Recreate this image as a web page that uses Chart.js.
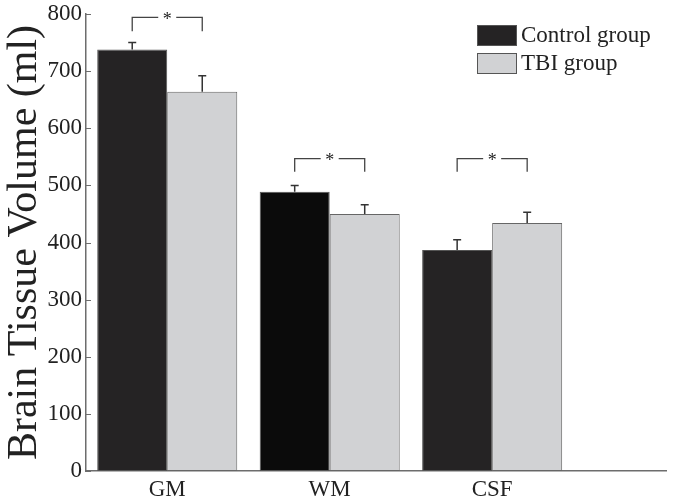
<!DOCTYPE html>
<html>
<head>
<meta charset="utf-8">
<script src="https://cdn.jsdelivr.net/npm/chart.js@4.4.1/dist/chart.umd.min.js"></script>
<style>
  html, body { margin: 0; padding: 0; background: #fff; }
  #wrap { width: 673px; height: 503px; }
</style>
</head>
<body>
<div id="wrap"><canvas id="volumeChart" width="673" height="503"></canvas></div>
<script>
// Tissue classes and their positions on the x axis
const categories = ["GM", "WM", "CSF"];
const categoryX = [1, 2, 3];

// Mean volumes (ml) and upper error (mean + SD)
const controlMeans = [738, 489, 387];
const controlErrTop = [750, 500, 405];
const tbiMeans = [664, 450, 434];
const tbiErrTop = [692, 466, 453];

// Significance brackets: which category, leg bottom and bracket top (ml)
const sigCategory = [0, 1, 2];
const sigLow = [770, 524, 524];
const sigHigh = [794, 547, 547];

const yTicks = [0, 100, 200, 300, 400, 500, 600, 700, 800];

const controlColors = ["#252324", "#0b0b0b", "#252324"];
const tbiColor = "#d1d2d4";
const serif = "'Liberation Serif', 'DejaVu Serif', serif";
const textColor = "#222";

// Upward error bars with a small cap
const errorBars = {
  id: "errorBars",
  afterDatasetsDraw(chart) {
    const ctx = chart.ctx;
    const y = chart.scales.y;
    const tops = [controlErrTop, tbiErrTop];
    ctx.save();
    ctx.strokeStyle = "#333";
    ctx.lineWidth = 1.5;
    tops.forEach((vals, d) => {
      chart.getDatasetMeta(d).data.forEach((bar, i) => {
        const yt = y.getPixelForValue(vals[i]);
        ctx.beginPath();
        ctx.moveTo(bar.x, bar.y);
        ctx.lineTo(bar.x, yt);
        ctx.moveTo(bar.x - 4, yt);
        ctx.lineTo(bar.x + 4, yt);
        ctx.stroke();
      });
    });
    ctx.restore();
  },
};

// Brackets with a star between the two bars of a group
const sigBrackets = {
  id: "sigBrackets",
  afterDatasetsDraw(chart) {
    const ctx = chart.ctx;
    const y = chart.scales.y;
    ctx.save();
    ctx.strokeStyle = "#444";
    ctx.lineWidth = 1.3;
    ctx.fillStyle = textColor;
    ctx.font = "18px " + serif;
    ctx.textAlign = "center";
    ctx.textBaseline = "middle";
    sigCategory.forEach((c, k) => {
      const x1 = chart.getDatasetMeta(0).data[c].x;
      const x2 = chart.getDatasetMeta(1).data[c].x;
      const mid = (x1 + x2) / 2;
      const yl = y.getPixelForValue(sigLow[k]);
      const yh = y.getPixelForValue(sigHigh[k]);
      ctx.beginPath();
      ctx.moveTo(x1, yl);
      ctx.lineTo(x1, yh);
      ctx.lineTo(mid - 9, yh);
      ctx.moveTo(mid + 9, yh);
      ctx.lineTo(x2, yh);
      ctx.lineTo(x2, yl);
      ctx.stroke();
      ctx.fillText("*", mid, yh + 3);
    });
    ctx.restore();
  },
};

// Inward tick marks on the y axis, as in the original figure
const innerTicks = {
  id: "innerTicks",
  afterDraw(chart) {
    const ctx = chart.ctx;
    const y = chart.scales.y;
    const left = chart.chartArea.left;
    ctx.save();
    ctx.strokeStyle = "#6d6d6d";
    ctx.lineWidth = 1;
    yTicks.forEach((v) => {
      const py = Math.round(y.getPixelForValue(v)) + 0.5;
      ctx.beginPath();
      ctx.moveTo(left, py);
      ctx.lineTo(left + 5, py);
      ctx.stroke();
    });
    ctx.restore();
  },
};

// Legend box in the upper right corner
const boxLegend = {
  id: "boxLegend",
  afterDraw(chart) {
    const ctx = chart.ctx;
    const x0 = 477;
    const rows = [25, 53];
    ctx.save();
    ctx.font = "23px " + serif;
    ctx.textBaseline = "middle";
    ctx.textAlign = "left";
    chart.data.datasets.forEach((ds, i) => {
      const fill = Array.isArray(ds.backgroundColor) ? ds.backgroundColor[0] : ds.backgroundColor;
      ctx.fillStyle = fill;
      ctx.fillRect(x0, rows[i], 40, 21);
      ctx.strokeStyle = "#555";
      ctx.lineWidth = 1;
      ctx.strokeRect(x0 + 0.5, rows[i] + 0.5, 39, 20);
      ctx.fillStyle = textColor;
      ctx.fillText(ds.label, x0 + 44, rows[i] + 11);
    });
    ctx.restore();
  },
};

const ctx = document.getElementById("volumeChart").getContext("2d");
new Chart(ctx, {
  type: "bar",
  data: {
    datasets: [
      {
        label: "Control group",
        data: categoryX.map((x, i) => ({ x: x, y: controlMeans[i] })),
        backgroundColor: controlColors,
        borderColor: "#555",
        borderWidth: 1,
        borderSkipped: false,
      },
      {
        label: "TBI group",
        data: categoryX.map((x, i) => ({ x: x, y: tbiMeans[i] })),
        backgroundColor: tbiColor,
        borderColor: "#666",
        borderWidth: 1,
        borderSkipped: false,
      },
    ],
  },
  options: {
    responsive: false,
    animation: false,
    devicePixelRatio: 1,
    layout: { padding: { left: 0, top: 14, right: 7, bottom: 0 } },
    datasets: { bar: { categoryPercentage: 0.862, barPercentage: 1.0 } },
    plugins: {
      legend: { display: false },
      tooltip: { enabled: false },
    },
    scales: {
      x: {
        type: "linear",
        min: 0.5,
        max: 4.07,
        offset: false,
        grid: { display: false, drawTicks: false, offset: false },
        border: { color: "#6d6d6d", width: 1.5 },
        afterBuildTicks: (scale) => {
          scale.ticks = categoryX.map((v) => ({ value: v }));
        },
        afterFit: (scale) => {
          scale.height = 32;
          scale.paddingLeft = 0;
          scale.paddingRight = 0;
        },
        ticks: {
          padding: 5,
          color: textColor,
          font: { family: serif, size: 23 },
          callback: (value) => categories[categoryX.indexOf(value)] || "",
        },
      },
      y: {
        min: 0,
        max: 800,
        grid: { display: false, drawTicks: false },
        border: { color: "#6d6d6d", width: 1.5 },
        afterBuildTicks: (scale) => {
          scale.ticks = yTicks.map((v) => ({ value: v }));
        },
        afterFit: (scale) => {
          scale.width = 86;
          scale.paddingTop = 0;
          scale.paddingBottom = 0;
        },
        ticks: {
          padding: 4,
          color: textColor,
          font: { family: serif, size: 23 },
        },
        title: {
          display: true,
          text: "Brain Tissue Volume (ml)",
          color: textColor,
          font: { family: serif, size: 42 },
          padding: { top: 0, bottom: 0 },
        },
      },
    },
  },
  plugins: [errorBars, sigBrackets, innerTicks, boxLegend],
});
</script>
</body>
</html>
